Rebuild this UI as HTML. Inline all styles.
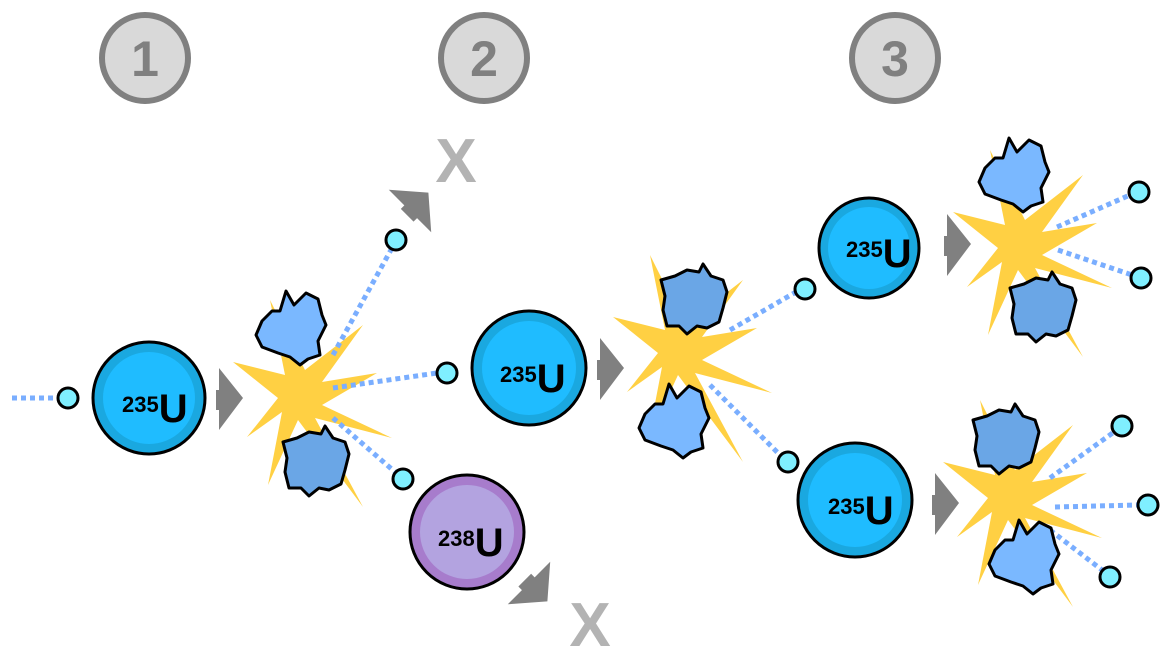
<!DOCTYPE html>
<html><head><meta charset="utf-8"><style>html,body{margin:0;padding:0;background:#fff;}svg{display:block}</style></head>
<body>
<svg width="1166" height="646" viewBox="0 0 1166 646" xmlns="http://www.w3.org/2000/svg" font-family="Liberation Sans, sans-serif">
<defs>
<polygon id="star" fill="#ffd043" points="-67,-33 -15,-20 -30,-95 5,-25 63,-70 22,-13 77,-22 22,10 92,43 15,23 63,112 -2,25 -32,90 -18,17 -53,42 -22,3"/>
<path id="fragA" fill="#7ab8ff" stroke="#000" stroke-width="3" stroke-linejoin="round" d="M-30,-12 L-20,-22 L-12,-22 L-6,-42 L2,-28 L14,-40 L26,-34 L30,-18 L34,-8 L26,8 L28,22 L16,26 L8,32 L-2,24 L-14,20 L-30,14 L-36,2 Z"/>
<path id="fragB" fill="#6aa6e6" stroke="#000" stroke-width="3" stroke-linejoin="round" d="M-32,-20 L-18,-24 L-6,-30 L6,-28 L10,-36 L18,-24 L30,-20 L34,-8 L30,8 L26,22 L14,28 L4,26 L-6,34 L-14,26 L-26,26 L-30,10 L-28,-4 Z"/>
<g id="arrow"><polygon fill="#808080" points="3,0 27,30 3,62 3,42 0,42 0,22 3,22"/></g>
<g id="arrowD"><polygon fill="#808080" points="0,-30 26,0 0,30 0,10 -5,10 -5,-8 0,-8"/></g>
</defs>

<g stroke="#808080" stroke-width="6" fill="#d9d9d9">
<circle cx="145" cy="58" r="43"/><circle cx="484" cy="58" r="43"/><circle cx="895" cy="58" r="43"/>
</g>
<g fill="#808080" font-weight="bold" font-size="50" text-anchor="middle">
<text x="145" y="76">1</text><text x="484" y="76">2</text><text x="895" y="76">3</text>
</g>

<use href="#star" x="300" y="395"/>
<use href="#star" x="680" y="350"/>
<use href="#star" x="1020" y="245"/>
<use href="#star" x="1010" y="495"/>

<g stroke="#7aaeff" stroke-width="5" stroke-dasharray="5 4" fill="none">
<line x1="12" y1="398" x2="58" y2="398"/>
<line x1="333" y1="355" x2="392" y2="248"/>
<line x1="333" y1="388" x2="437" y2="373"/>
<line x1="333" y1="418" x2="395" y2="472"/>
<line x1="730" y1="330" x2="796" y2="292"/>
<line x1="710" y1="385" x2="780" y2="455"/>
<line x1="1057" y1="227" x2="1130" y2="195"/>
<line x1="1058" y1="250" x2="1132" y2="275"/>
<line x1="1050" y1="478" x2="1114" y2="432"/>
<line x1="1055" y1="507" x2="1138" y2="505"/>
<line x1="1050" y1="530" x2="1102" y2="570"/>
</g>

<use href="#fragA" x="292" y="333"/>
<use href="#fragB" x="315" y="462"/>
<use href="#fragB" x="693" y="300"/>
<use href="#fragA" x="675" y="426"/>
<use href="#fragA" x="1015" y="180"/>
<use href="#fragB" x="1042" y="308"/>
<use href="#fragB" x="1005" y="440"/>
<use href="#fragA" x="1025" y="562"/>

<g fill="#7fefff" stroke="#000" stroke-width="3">
<circle cx="68" cy="398" r="10"/>
<circle cx="396" cy="240" r="10"/>
<circle cx="447" cy="373" r="10"/>
<circle cx="403" cy="479" r="10"/>
<circle cx="805" cy="289" r="10"/>
<circle cx="788" cy="462" r="10"/>
<circle cx="1139" cy="192" r="10"/>
<circle cx="1141" cy="278" r="10"/>
<circle cx="1122" cy="426" r="10"/>
<circle cx="1148" cy="505" r="10"/>
<circle cx="1110" cy="577" r="10"/>
</g>

<g>
<circle cx="149" cy="398" r="56" fill="#1aa8e0" stroke="#000" stroke-width="3"/><circle cx="149" cy="398" r="46" fill="#1fbcff"/>
<circle cx="529" cy="368" r="57" fill="#1aa8e0" stroke="#000" stroke-width="3"/><circle cx="529" cy="368" r="47" fill="#1fbcff"/>
<circle cx="869" cy="248" r="50" fill="#1aa8e0" stroke="#000" stroke-width="3"/><circle cx="869" cy="248" r="41" fill="#1fbcff"/>
<circle cx="855" cy="500" r="57" fill="#1aa8e0" stroke="#000" stroke-width="3"/><circle cx="855" cy="500" r="47" fill="#1fbcff"/>
<circle cx="467" cy="532" r="57" fill="#a77ccc" stroke="#000" stroke-width="3"/><circle cx="467" cy="532" r="47" fill="#b3a3e0"/>
</g>
<g font-weight="bold" fill="#000">
<text x="122" y="422"><tspan font-size="22" dy="-10">235</tspan><tspan font-size="40" dy="10">U</tspan></text>
<text x="500" y="392"><tspan font-size="22" dy="-10">235</tspan><tspan font-size="40" dy="10">U</tspan></text>
<text x="846" y="267"><tspan font-size="22" dy="-10">235</tspan><tspan font-size="40" dy="10">U</tspan></text>
<text x="828" y="524"><tspan font-size="22" dy="-10">235</tspan><tspan font-size="40" dy="10">U</tspan></text>
<text x="438" y="556"><tspan font-size="22" dy="-10">238</tspan><tspan font-size="40" dy="10">U</tspan></text>
</g>

<use href="#arrow" x="216" y="368"/>
<use href="#arrow" x="597" y="338"/>
<use href="#arrow" x="944" y="214"/>
<use href="#arrow" x="932" y="473"/>
<g transform="translate(410,211) rotate(-45)"><use href="#arrowD"/></g>
<g transform="translate(529,583) rotate(45)"><use href="#arrowD"/></g>

<g fill="#b3b3b3" font-weight="bold" font-size="62" text-anchor="middle">
<text x="456" y="182">X</text>
<text x="590" y="646">X</text>
</g>
</svg>
</body></html>
